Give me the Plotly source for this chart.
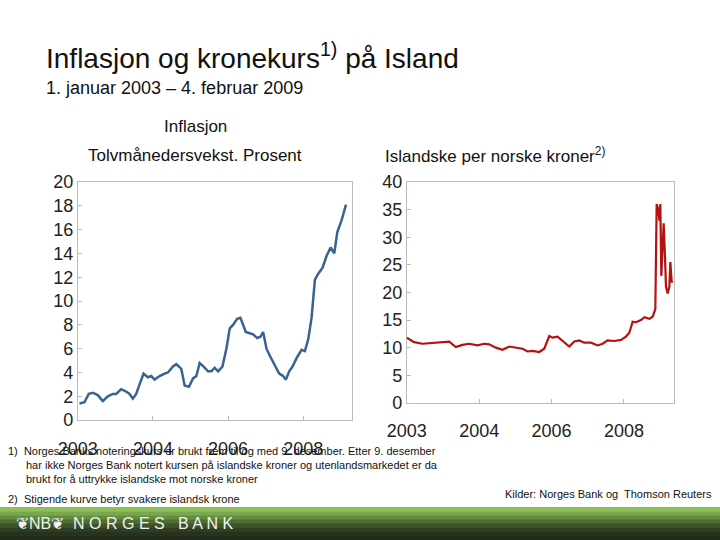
import plotly.graph_objects as go

# Left: inflation (zoom-px positions converted to tick units later)
infl_z = [240,255,268,280,295,310,325,340,350,365,380,390,400,410,420,432,445,455,465,480,495,505,520,530,545,555,568,580,590,600,612,625,635,645,655,668,680,690,700,712,722,738,750,760,772,782,790,800,812,825,838,850,858,868,878,890,905,915,925,935,945,955,968,980,992,1003,1012,1025,1038]
infl_v = [1.4,1.5,2.2,2.3,2.1,1.6,2.0,2.2,2.2,2.6,2.4,2.2,1.8,2.2,3.0,3.9,3.6,3.7,3.4,3.7,3.9,4.0,4.5,4.7,4.3,2.9,2.8,3.5,3.7,4.8,4.5,4.1,4.1,4.4,4.1,4.5,6.0,7.7,8.0,8.5,8.6,7.4,7.3,7.2,6.9,7.0,7.4,6.0,5.3,4.6,3.9,3.7,3.4,4.1,4.5,5.2,5.9,5.8,6.8,8.6,11.8,12.3,12.8,13.8,14.5,14.0,15.8,16.8,18.1]
fx_z = [143,165,190,220,250,270,290,310,330,355,375,390,410,430,450,470,490,505,520,540,555,570,580,595,610,630,645,660,675,695,715,730,745,765,785,800,810,820,830,845,855,870,880,888,892,897,900,903,906,910,913,916,920,925,930,933,937,940]
fx_v = [11.8,11.0,10.7,10.8,10.9,11.1,10.1,10.5,10.7,10.4,10.7,10.6,10.0,9.6,10.2,10.0,9.8,9.3,9.4,9.2,9.8,12.1,11.8,12.0,11.2,10.2,11.1,11.3,10.9,10.9,10.4,10.7,11.3,11.2,11.4,12.0,12.7,14.7,14.6,15.0,15.5,15.2,15.6,17.0,36,35,33,36,23,28,32.5,28,21,19.8,21,25.5,22,21.8]
tick_labels = ["2003", "2004", "2006", "2008"]

infl_x = [(z - 235) / 225 for z in infl_z]
fx_x = [(z - 143) / 217 for z in fx_z]

fig = go.Figure()
fig.add_trace(go.Scatter(x=infl_x, y=infl_v, mode="lines", line=dict(color="#3a6391", width=2.5), xaxis="x", yaxis="y"))
fig.add_trace(go.Scatter(x=fx_x, y=fx_v, mode="lines", line=dict(color="#b5120f", width=2.2), xaxis="x2", yaxis="y2"))

ax = dict(showgrid=False, zeroline=False, showline=True, linecolor="#bbbbbb", mirror=True, ticks="inside", tickcolor="#bbbbbb", ticklen=4,
          automargin=False, tickfont=dict(family="Liberation Sans, Arial", size=18, color="#222"))
fig.update_layout(
    width=720, height=540, margin=dict(l=0, r=0, t=0, b=0, autoexpand=False), showlegend=False,
    plot_bgcolor="white", paper_bgcolor="white",
    xaxis=dict(ax, domain=[0.108, 0.489], range=[0, 3.65], tickvals=[0, 1, 2, 3], ticktext=tick_labels, anchor="y", ticklabelstandoff=12),
    yaxis=dict(ax, domain=[0.222, 0.663], range=[0, 20], dtick=2, anchor="x"),
    xaxis2=dict(ax, domain=[0.565, 0.936], range=[0, 3.69], tickvals=[0, 1, 2, 3], ticktext=tick_labels, anchor="y2", ticklabelstandoff=12),
    yaxis2=dict(ax, domain=[0.254, 0.663], range=[0, 40], dtick=5, anchor="x2"),
)

F = "Liberation Sans, Arial"
def ann(x, y, text, size, color="#111", xanchor="left", yanchor="middle"):
    fig.add_annotation(x=x / 720, y=1 - y / 540, xref="paper", yref="paper", text=text, showarrow=False,
                       font=dict(family=F, size=size, color=color), xanchor=xanchor, yanchor=yanchor, align="left")

ann(44, 56, "Inflasjon og kronekurs<sup>1)</sup> på Island", 28)
ann(44, 88, "1. januar 2003 – 4. februar 2009", 18)
ann(195, 127, "Inflasjon", 17, xanchor="center")
ann(195, 156, "Tolvmånedersvekst. Prosent", 17, xanchor="center")
ann(383, 155, "Islandske per norske kroner<sup>2)</sup>", 17)
ann(6, 451, "1)  Norges Banks noteringskurs er brukt frem til og med 9. desember. Etter 9. desember", 11)
ann(24, 465, "har ikke Norges Bank notert kursen på islandske kroner og utenlandsmarkedet er da", 11)
ann(24, 479, "brukt for å uttrykke islandske mot norske kroner", 11)
ann(6, 499, "2)  Stigende kurve betyr svakere islandsk krone", 11)
ann(714, 494, "Kilder: Norges Bank og  Thomson Reuters", 11, xanchor="right")

# footer band gradient
cols = ["#8cbf5a", "#7aa84e", "#658c42", "#4f6e36", "#3c532b", "#2f3f23", "#27331d", "#222b1a"]
h = 33 / len(cols)
for i, c in enumerate(cols):
    y0 = 507 + i * h
    fig.add_shape(type="rect", xref="paper", yref="paper", x0=0, x1=1, y0=1 - (y0 + h + 0.5) / 540, y1=1 - y0 / 540,
                  fillcolor=c, line_width=0, layer="below")
ann(14, 523, "❦NB❦  N O R G E S   B A N K", 16, color="#f2f2f2")

fig.write_html("out.html", config={"displayModeBar": False},
               post_script="document.body.style.margin='0';document.body.style.overflow='hidden';")
